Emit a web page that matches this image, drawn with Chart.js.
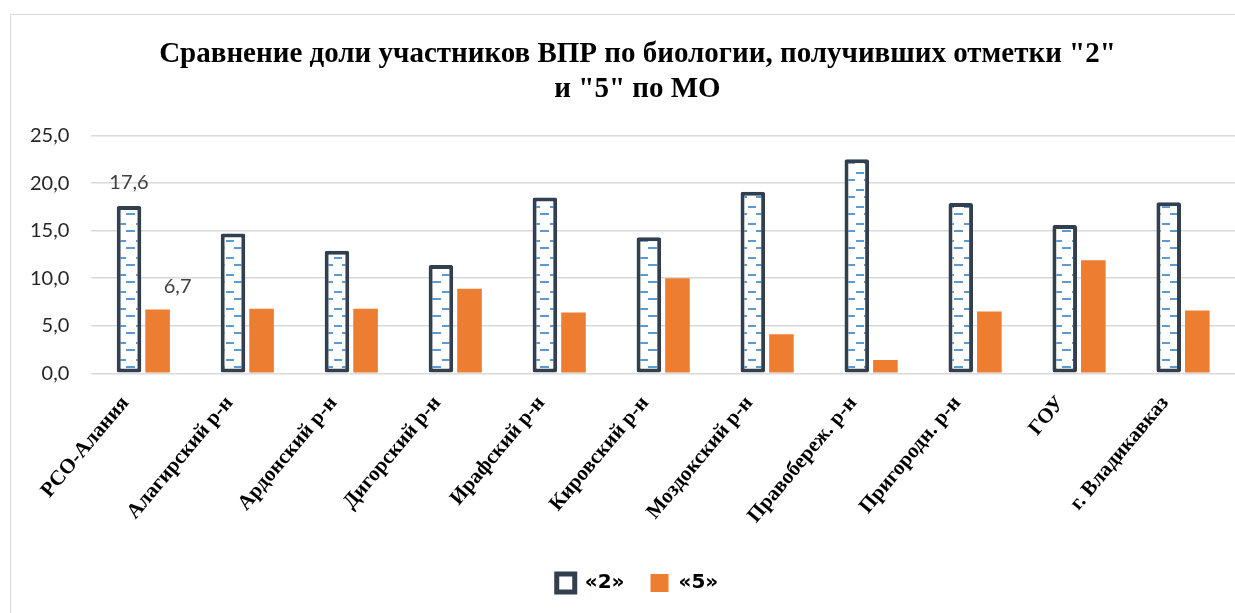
<!DOCTYPE html>
<html lang="ru">
<head>
<meta charset="UTF-8">
<title>ВПР биология</title>
<script src="https://cdn.jsdelivr.net/npm/chart.js"></script>
<style>
    body { margin: 0; background: #fff; }
    .frame {
        position: absolute; left: 10px; top: 14px;
        width: 1240px; height: 620px;
        border: 1px solid #d9d9d9;
    }
    #chart { position: absolute; left: 0; top: 0; }
</style>
</head>
<body>
<div class="frame"></div>
<canvas id="chart" width="1235" height="613"></canvas>
<script>
// data
const categories = ['РСО-Алания', 'Алагирский р-н', 'Ардонский р-н', 'Дигорский р-н', 'Ирафский р-н',
    'Кировский р-н', 'Моздокский р-н', 'Правобереж. р-н', 'Пригородн. р-н', 'ГОУ', 'г. Владикавказ'];
const mark2 = [17.6, 14.7, 12.9, 11.4, 18.5, 14.3, 19.1, 22.5, 17.9, 15.6, 18.0];
const mark5 = [6.7, 6.8, 6.8, 8.9, 6.4, 10.0, 4.1, 1.4, 6.5, 11.9, 6.6];
const seriesNames = ['«2»', '«5»'];
const labelledIndex = [0];   // only the first category has value labels

// blue dash pattern inside the "2" bars
function dashPattern() {
    const c = document.createElement('canvas');
    c.width = 18; c.height = 17;
    const g = c.getContext('2d');
    g.fillStyle = '#ffffff';
    g.fillRect(0, 0, 18, 17);
    g.fillStyle = '#5b9bd5';
    g.fillRect(10, 2, 8, 2);
    g.fillRect(0, 9, 9, 2);
    return document.getElementById('chart').getContext('2d').createPattern(c, 'repeat');
}

const fmt = v => v.toFixed(1).replace('.', ',');

const valueLabels = {
    id: 'valueLabels',
    afterDatasetsDraw(chart) {
        const ctx = chart.ctx;
        ctx.save();
        ctx.font = '20px Lato, "Open Sans", sans-serif';
        ctx.fillStyle = '#404040';
        ctx.textAlign = 'center';
        ctx.textBaseline = 'bottom';
        const shift = [0, 20];
        chart.data.datasets.forEach((ds, di) => {
            const meta = chart.getDatasetMeta(di);
            labelledIndex.forEach(i => {
                const el = meta.data[i];
                ctx.fillText(fmt(ds.data[i]), el.x + shift[di], el.y - 13);
            });
        });
        ctx.restore();
    }
};

// title and legend sit a little right of the canvas centre in the original
const nudgeBlocks = {
    id: 'nudgeBlocks',
    afterLayout(chart) {
        [chart.titleBlock, chart.legend].forEach(b => { if (b) b.left += 32; });
    }
};

new Chart(document.getElementById('chart'), {
    type: 'bar',
    data: {
        labels: categories,
        datasets: [{
            label: seriesNames[0],
            data: mark2,
            backgroundColor: dashPattern(),
            borderColor: '#323f4f',
            borderWidth: 4,
            borderRadius: 2,
            borderSkipped: false
        }, {
            label: seriesNames[1],
            data: mark5,
            backgroundColor: '#ed7d31',
            borderWidth: 0
        }]
    },
    options: {
        responsive: false,
        animation: false,
        categoryPercentage: 0.55,
        barPercentage: 0.86,
        layout: { padding: { left: 8, right: 0, top: 0, bottom: 10 } },
        plugins: {
            title: {
                display: true,
                text: ['Сравнение доли участников ВПР по биологии, получивших отметки "2"', 'и "5" по МО'],
                font: { family: '"Liberation Serif", "Times New Roman", serif', size: 29, weight: 'bold' },
                color: '#000',
                lineHeight: 1.2,
                padding: { top: 37, bottom: 29 }
            },
            legend: {
                position: 'bottom',
                labels: {
                    font: { family: '"DejaVu Sans", sans-serif', size: 20, weight: 'bold' },
                    color: '#000',
                    boxWidth: 18,
                    boxHeight: 18,
                    padding: 26,
                    generateLabels(chart) {
                        return [
                            { text: seriesNames[0], fillStyle: '#ffffff', strokeStyle: '#323f4f', lineWidth: 5, datasetIndex: 0 },
                            { text: seriesNames[1], fillStyle: '#ed7d31', strokeStyle: '#ed7d31', lineWidth: 0, datasetIndex: 1 }
                        ];
                    }
                }
            },
            tooltip: { enabled: false }
        },
        scales: {
            x: {
                grid: { display: false },
                border: { display: false },
                afterFit(s) {
                    // labels hang to the left; do not let them squeeze the plot
                    s.paddingLeft = 0;
                    s.paddingRight = 0;
                    s.height += 9;
                },
                ticks: {
                    color: '#000',
                    font: { family: '"Liberation Serif", "Times New Roman", serif', size: 21, weight: 'bold' },
                    minRotation: 50,
                    maxRotation: 50,
                    autoSkip: false,
                    labelOffset: -18,
                    padding: 10
                }
            },
            y: {
                min: 0,
                max: 25,
                border: { display: false },
                grid: { color: '#d9d9d9', lineWidth: 1.5, drawTicks: false },
                ticks: {
                    stepSize: 5,
                    color: '#262626',
                    font: { family: 'Lato, "Open Sans", sans-serif', size: 20 },
                    padding: 22,
                    callback: v => fmt(v)
                }
            }
        }
    },
    plugins: [valueLabels, nudgeBlocks]
});
</script>
</body>
</html>
